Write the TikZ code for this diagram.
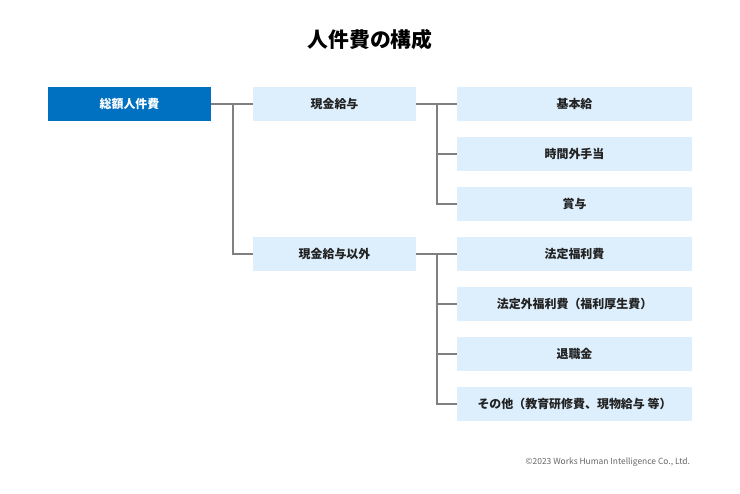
\documentclass[tikz,border=0pt]{standalone}
\usepackage{fontspec}
\newfontfamily\cjk{Noto Sans CJK JP}
\usepackage{xcolor}
\definecolor{wblue}{RGB}{0,112,192}
\definecolor{wpale}{RGB}{221,239,252}
\definecolor{wgray}{RGB}{128,128,128}
\definecolor{wtext}{RGB}{34,34,34}
\usetikzlibrary{positioning}

\begin{document}
\begin{tikzpicture}[x=0.025cm, y=-0.025cm,
    rootbox/.style={fill=wblue, text=white, font=\cjk\bfseries\fontsize{8.5}{10}\selectfont,
      minimum width=4.075cm, minimum height=0.85cm, inner sep=0pt},
    midbox/.style={fill=wpale, text=wtext, font=\cjk\bfseries\fontsize{8.5}{10}\selectfont,
      minimum width=4.075cm, minimum height=0.85cm, inner sep=0pt},
    leafbox/.style={fill=wpale, text=wtext, font=\cjk\bfseries\fontsize{8.5}{10}\selectfont,
      minimum width=5.875cm, minimum height=0.85cm, inner sep=0pt},
    link/.style={wgray, line width=1.1pt}]
    \useasboundingbox[fill=white] (0,0) rectangle (740,493);

    % Title
    \node[font=\cjk\bfseries\fontsize{14.8}{17}\selectfont, text=black] (title) at (370,40)
      {人件費の構成};

    % Level 1
    \node[rootbox] (total) at (129.5,104) {総額人件費};

    % Level 2
    \node[midbox] (cash) at (334.5,104) {現金給与};
    \node[midbox] (noncash) at (334.5,254) {現金給与以外};

    % Level 3: cash wages
    \node[leafbox] (basic) at (574.5,104) {基本給};
    \node[leafbox] (overtime) at (574.5,154) {時間外手当};
    \node[leafbox] (bonus) at (574.5,204) {賞与};

    % Level 3: other costs
    \node[leafbox] (legal) at (574.5,254) {法定福利費};
    \node[leafbox] (welfare) at (574.5,304) {法定外福利費（福利厚生費）};
    \node[leafbox] (retire) at (574.5,354) {退職金};
    \node[leafbox] (others) at (574.5,404) {その他（教育研修費、現物給与 等）};

    % Connecting lines
    \coordinate (split1) at (233,104);
    \coordinate (split2) at (437,104);
    \coordinate (split3) at (437,254);
    \draw[link] (total.east) -- (cash.west);
    \draw[link] (split1) |- (noncash.west);
    \draw[link] (cash.east) -- (basic.west);
    \draw[link] (split2) |- (overtime.west);
    \draw[link] (split2) |- (bonus.west);
    \draw[link] (noncash.east) -- (legal.west);
    \draw[link] (split3) |- (welfare.west);
    \draw[link] (split3) |- (retire.west);
    \draw[link] (split3) |- (others.west);

    % Footer
    \node[font=\cjk\fontsize{6}{7}\selectfont, text=wgray!80!black, anchor=east] (credit) at (695,462)
      {©2023 Works Human Intelligence Co., Ltd.};
\end{tikzpicture}
\end{document}
